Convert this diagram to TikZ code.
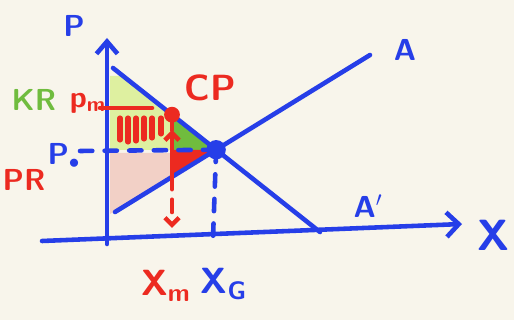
\documentclass[tikz,border=0pt]{standalone}
\usepackage{amsmath}
\usetikzlibrary{arrows.meta}

\definecolor{penblue}{RGB}{38,62,232}
\definecolor{penred}{RGB}{236,42,32}
\definecolor{pengreen}{RGB}{112,188,62}
\definecolor{lightgreen}{RGB}{222,240,160}
\definecolor{lightpink}{RGB}{242,208,198}
\definecolor{paper}{RGB}{248,245,235}

\begin{document}
\begin{tikzpicture}[
  x=0.02cm, y=-0.02cm,
  pen/.style={line width=2.6pt, line cap=round},
  lbl/.style={font=\LARGE\sffamily\bfseries},
]

% 背景与边界
\fill[paper] (0,0) rectangle (514,320);
\useasboundingbox (0,0) rectangle (514,320);

% 需求线 A' 与供给线 A 的端点
\coordinate (D1) at (113,68);
\coordinate (D2) at (320,232);
\coordinate (S1) at (115,212);
\coordinate (S2) at (370,55);
% 均衡点 E
\coordinate (E) at (intersection of D1--D2 and S1--S2);
% Cournot 点 CP（需求线上 x=172）
\coordinate (CP) at (172,114.7);
\coordinate (Sm) at (172,176.9);

% 消费者剩余（浅绿）
\fill[lightgreen] (110,76) -- (121,76) -- (CP) -- (172,150) -- (110,150) -- cycle;
% 深绿小三角
\fill[pengreen] (CP) -- (E) -- (172,150) -- cycle;
% 生产者剩余（浅粉）
\fill[lightpink] (110,153) -- (172,153) -- (Sm) -- (110,214) -- cycle;
% 红色小三角
\fill[penred] (172,150) -- (E) -- (Sm) -- cycle;

% 红色竖条纹
\foreach \x/\h in {120/140, 128/142, 136/141, 144/139, 152/138, 161/134}
  \draw[penred, line width=2.9pt, line cap=round] (\x,118) -- (\x,\h);

% 坐标轴
\draw[penblue, pen, -{Straight Barb[length=7pt, width=12pt]}] (107,244) -- (107,38);
\draw[penblue, pen, -{Straight Barb[length=7pt, width=14pt]}] (42,241) -- (462,224);

% 需求线与供给线
\draw[penblue, pen] (D1) -- (D2);
\draw[penblue, pen] (S1) -- (S2);

% 均衡价格与数量（虚线）
\draw[penblue, pen, dash pattern=on 7pt off 7pt] (80,151) -- (E);
\draw[penblue, pen, dash pattern=on 7pt off 7pt] (E) -- (213,238);

% 垄断价格 p_m
\draw[penred, pen] (100,108) -- (152,108);

% 从 CP 向下的红线
\draw[penred, pen, -{Straight Barb[length=4pt, width=8pt]}] (Sm) -- (172,130);
\draw[penred, pen] (172,130) -- (CP);
\draw[penred, pen, dash pattern=on 7pt off 6pt, -{Straight Barb[length=4pt, width=8pt]}] (Sm) -- (172,228);

% 点
\fill[penblue] (E) circle (5.5pt);
\fill[penred] (CP) circle (4.5pt);

% 标签
\node[lbl, text=penblue] (lP) at (74,26) {P};
\node[lbl, text=penblue] (lA) at (405,50) {A};
\node[lbl, text=penblue] (lA2) at (368,206) {A$'$};
\node[lbl, font=\Huge\sffamily\bfseries, text=penblue] (lX) at (494,235) {X};
\node[lbl, text=pengreen] (lKR) at (34,100) {KR};
\node[lbl, text=penred] (lpm) at (88,103) {p\textsubscript{m}};
\node[lbl, font=\huge\sffamily\bfseries, text=penred] (lCP) at (210,88) {CP};
\node[lbl, text=penblue] (lPG) at (64,156) {P\textsubscript{$\bullet$}};
\node[lbl, text=penred] (lPR) at (24,180) {PR};
\node[lbl, font=\huge\sffamily\bfseries, text=penred] (lXm) at (166,286) {X\textsubscript{m}};
\node[lbl, font=\huge\sffamily\bfseries, text=penblue] (lXG) at (224,284) {X\textsubscript{G}};

\end{tikzpicture}
\end{document}
